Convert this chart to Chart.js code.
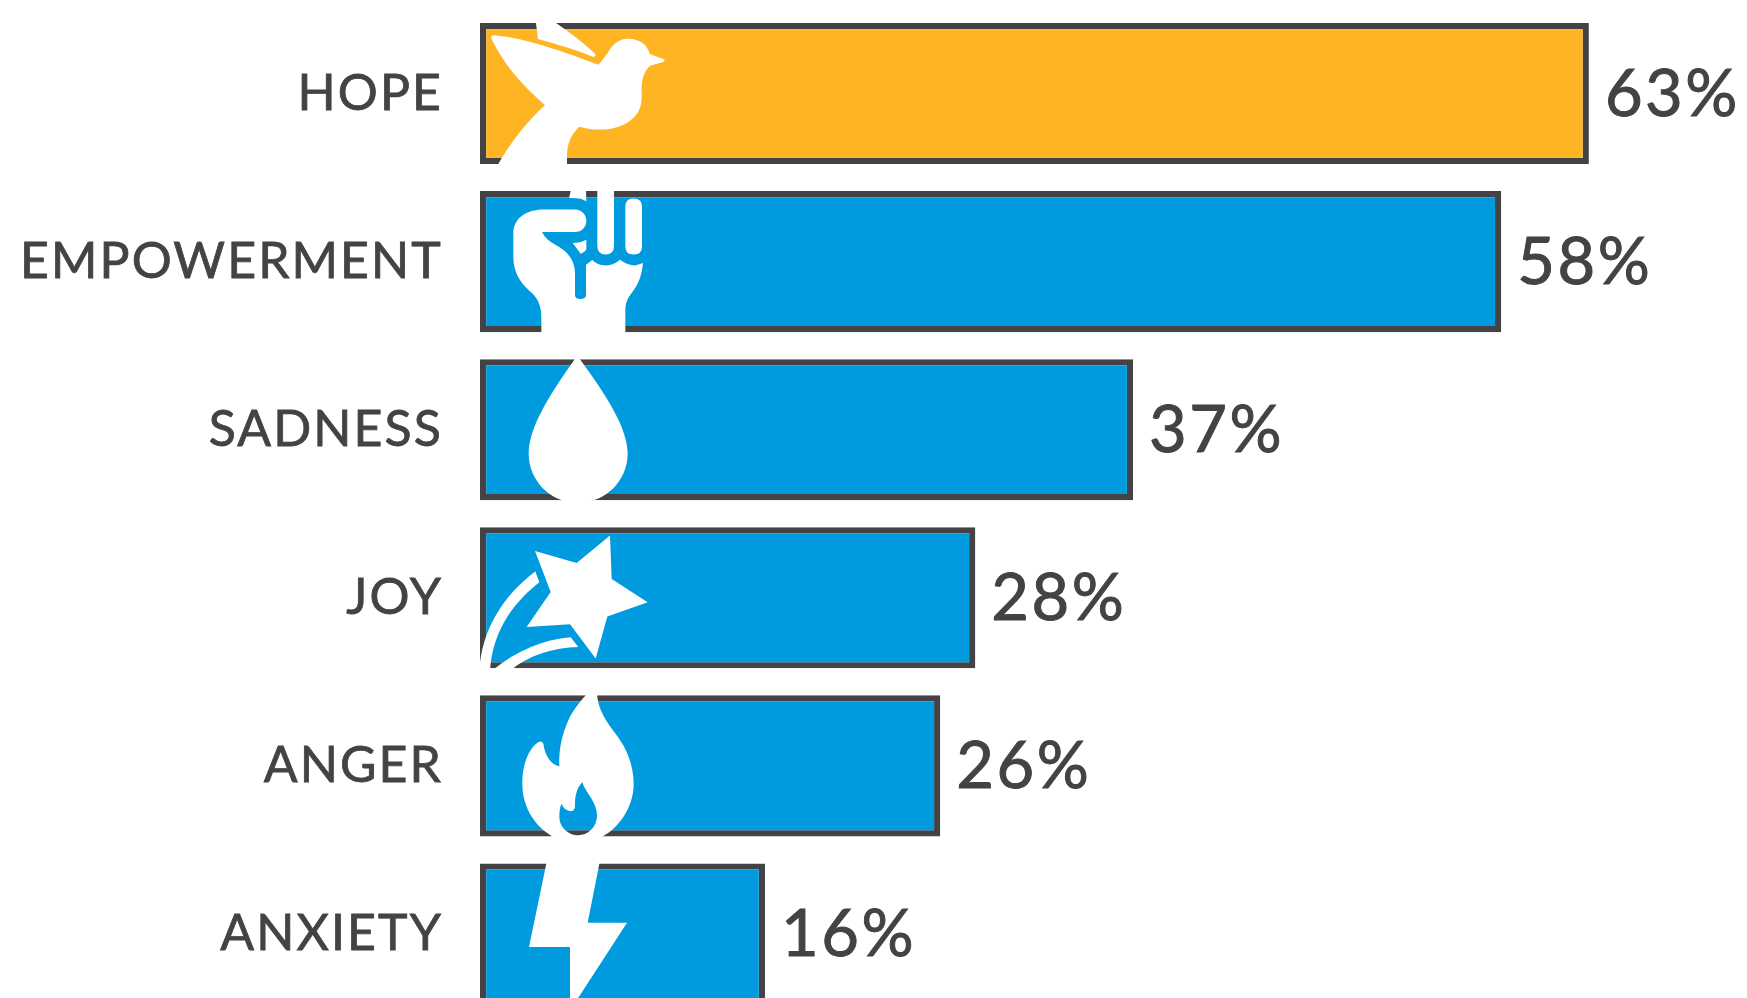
<!DOCTYPE html>
<html><head><meta charset="utf-8">
<script src="https://cdn.jsdelivr.net/npm/chart.js@4"></script>
<style>
html,body{margin:0;padding:0;background:#fff;overflow:hidden;width:1747px;height:998px}
#wrap{position:relative;width:1747px;height:998px;overflow:hidden}
canvas{display:block}
</style></head><body>
<div id="wrap"><canvas id="c" width="1747" height="1018"></canvas></div>
<script>
const categories = ["HOPE","EMPOWERMENT","SADNESS","JOY","ANGER","ANXIETY"];
const percents = [63,58,37,28,26,16];
const barColors = ["#FFB423","#009BDF","#009BDF","#009BDF","#009BDF","#009BDF"];
const INK = "#434345";

// Decorative icons, in px*3 units, anchored on each bar's top-left corner
const icons = [
 {top:69, paths:[
  "M226,55 L234,117 C290,133 350,150 398,170 C405,172 409,166 405,161 C370,128 330,98 288,69 L270,55 Z",
  "M98,106 C190,112 310,155 415,194 C430,178 440,165 450,148 C465,125 485,116 505,116 C540,116 562,135 570,163 L612,178 Q616,182 612,185 L570,197 C550,215 543,245 545,280 C547,320 535,345 510,362 C470,392 410,395 358,380 C335,400 320,430 321,470 L321,500 L110,500 C150,430 200,365 255,316 C180,250 130,190 95,118 Q92,108 98,106 Z"]},
 {top:574, paths:[
  "M244,1000 L244,950 C244,915 230,890 208,873 C178,845 160,815 160,770 L160,700 C160,655 200,629 250,629 L345,629 C365,629 379,645 379,663 C379,682 365,697 345,697 L246,697 C255,715 270,728 290,737 C325,755 345,785 345,820 L345,885 Q345,898 361,898 Q378,898 378,885 L378,795 L397,781 C410,793 422,797 437,797 C455,797 468,790 480,780 C495,792 510,797 525,797 L549,790 C545,830 535,855 515,880 C502,897 496,910 496,935 L496,1000 Z",
  "M338,730 C355,730 368,726 379,720 L379,748 Q375,758 362,762 Z",
  "M412,560 L462,560 L462,738 Q462,764 437,764 Q412,764 412,738 Z",
  "M496,620 Q496,596 520,596 Q546,596 546,620 L546,740 Q546,764 521,764 Q496,764 496,740 Z",
  "M328,592 L332,574 Q340,560 355,560 Q372,560 378,574 L379,605 Q365,594 328,595 Z"]},
 {top:57, paths:[
  "M352,46 C400,115 503,245 503,340 C503,422 436,488 354,488 C272,488 206,422 206,340 C206,245 305,115 352,46 Z"]},
 {top:561, paths:[
  "M225,632 L350,668 L450,586 L455,716 L563,786 L442,829 L407,955 L330,852 L200,860 L272,755 Z",
  "M226,694 L238,726 C170,780 100,860 90,990 L58,990 C65,870 130,765 226,694 Z",
  "M332,891 L355,920 C280,922 205,945 152,990 L98,990 C170,930 250,898 332,891 Z"]},
 {top:45, rule:"evenodd", paths:[
  "M411,35 C411,85 440,125 470,165 C500,205 521,255 521,310 C521,385 470,450 420,472 L285,472 C230,445 187,385 187,310 C187,255 205,205 235,186 Q245,180 250,190 C255,225 270,250 298,258 C296,210 305,165 325,120 C340,85 365,60 385,35 Z M367,306 C375,335 411,365 411,405 C411,440 385,465 355,465 C325,465 298,440 298,410 C298,395 300,380 304,371 C312,385 322,393 335,392 C345,390 345,380 345,370 C345,345 352,320 367,306 Z"]},
 {top:549, paths:[
  "M262,535 L421,535 L383,727 L501,727 L330,990 L330,800 L207,800 Z"]}
];

const overlay = {
  id:"overlay",
  beforeDraw(chart){ chart.ctx.letterSpacing = "2.1px"; },
  afterDatasetsDraw(chart){
    const ctx = chart.ctx, bars = chart.getDatasetMeta(0).data;
    ctx.save();
    bars.forEach((bar,i)=>{
      const p = bar.getProps(["x","y","base","height"],true);
      const left = p.base, top = p.y - p.height/2;
      ctx.save();
      ctx.translate(left, top);
      ctx.scale(1/3,1/3);
      ctx.translate(-60, -icons[i].top);
      ctx.fillStyle = "#fff";
      icons[i].paths.forEach(d=>ctx.fill(new Path2D(d), icons[i].rule||"nonzero"));
      ctx.restore();
      ctx.letterSpacing = "2.5px";
      ctx.font = "400 65px Lato";
      ctx.fillStyle = INK;
      ctx.strokeStyle = INK;
      ctx.lineWidth = 1;
      ctx.textAlign = "left";
      ctx.textBaseline = "middle";
      const txt = percents[i]+"%";
      ctx.fillText(txt, p.x+16, p.y+1);
      ctx.strokeText(txt, p.x+16, p.y+1);
    });
    ctx.restore();
  }
};

new Chart(document.getElementById("c"),{
  type:"bar",
  data:{labels:categories,datasets:[{
    data:percents,
    base:-0.257,
    backgroundColor:barColors,
    borderColor:INK,
    borderWidth:6.2,
    borderSkipped:false,
    categoryPercentage:1,
    barPercentage:141/168
  }]},
  plugins:[overlay],
  options:{
    indexAxis:"y",
    responsive:false,
    animation:false,
    layout:{padding:{top:9.5,bottom:0,left:0,right:0}},
    plugins:{legend:{display:false},tooltip:{enabled:false},title:{display:false}},
    scales:{
      x:{display:false,min:-0.257,max:72.02,grid:{display:false}},
      y:{
        grid:{display:false},
        border:{display:false},
        afterFit(s){s.width=480;s.paddingTop=0;s.paddingBottom=0;},
        ticks:{color:INK,padding:29,textStrokeColor:INK,textStrokeWidth:0.8,font:{family:"Lato",size:50,weight:"400"}}
      }
    }
  }
});
</script>
</body></html>
